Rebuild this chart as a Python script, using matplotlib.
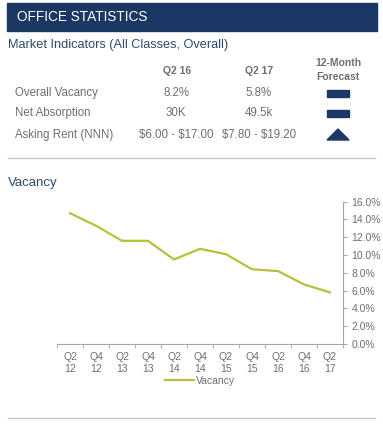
import matplotlib.pyplot as plt
from matplotlib.patches import Rectangle, Polygon

plt.rcParams['font.family'] = ['Liberation Sans', 'DejaVu Sans']

quarters = ['Q2\n12', 'Q4\n12', 'Q2\n13', 'Q4\n13', 'Q2\n14', 'Q4\n14',
            'Q2\n15', 'Q4\n15', 'Q2\n16', 'Q4\n16', 'Q2\n17']
vacancy = [14.7, 13.3, 11.6, 11.6, 9.5, 10.7, 10.1, 8.4, 8.2, 6.7, 5.8]

row_labels = ['Overall Vacancy', 'Net Absorption', 'Asking Rent (NNN)']
q2_16 = ['8.2%', '30K', r'\$6.00 - \$17.00']
q2_17 = ['5.8%', '49.5k', r'\$7.80 - \$19.20']
forecast = ['flat', 'flat', 'up']

W, H = 383, 428
navy = '#1B3763'
gray = '#6f6f6f'

fig = plt.figure(figsize=(W / 100, H / 100), dpi=100)


def fx(x):
    return x / W


def fy(y):
    return 1 - y / H


# header bar
fig.patches.append(Rectangle((fx(7), fy(31)), fx(370), 28 / H,
                             transform=fig.transFigure, color=navy))
fig.text(fx(17), fy(17), 'OFFICE STATISTICS', color='white', fontsize=9.8,
         va='center', ha='left')

fig.text(fx(8), fy(45), 'Market Indicators (All Classes, Overall)',
         color='#2E4A6E', fontsize=9.2, va='center')

hdr = dict(fontsize=7.5, fontweight='bold', color=gray, ha='center', va='center')
fig.text(fx(177), fy(71), 'Q2 16', **hdr)
fig.text(fx(259), fy(71), 'Q2 17', **hdr)
fig.text(fx(338), fy(63), '12-Month', **hdr)
fig.text(fx(338), fy(77), 'Forecast', **hdr)

row_y = [93, 113, 135]
for lab, a, b, f, y in zip(row_labels, q2_16, q2_17, forecast, row_y):
    fig.text(fx(15), fy(y), lab, fontsize=8.3, color=gray, va='center')
    fig.text(fx(176), fy(y), a, fontsize=8.3, color=gray, va='center', ha='center')
    fig.text(fx(259), fy(y), b, fontsize=8.3, color=gray, va='center', ha='center')
    if f == 'flat':
        fig.patches.append(Rectangle((fx(327), fy(y + 3.5)), fx(22), 7 / H,
                                     transform=fig.transFigure, color=navy))
    else:
        fig.patches.append(Polygon([(fx(327), fy(y + 5)), (fx(349), fy(y + 5)),
                                    (fx(338), fy(y - 6))],
                                   transform=fig.transFigure, color=navy))

# separators
for y in (158, 418):
    fig.add_artist(plt.Line2D([fx(8), fx(375)], [fy(y), fy(y)],
                              transform=fig.transFigure, color='#c8c8c8', lw=1))

fig.text(fx(8), fy(183), 'Vacancy', color='#2E4A6E', fontsize=9.5, va='center')

ax = fig.add_axes([fx(57), fy(344), 286 / W, 142.3 / H])
x = list(range(len(quarters)))
ax.plot(x, vacancy, color='#B8C03A', lw=1.6, label='Vacancy')
ax.set_xlim(-0.5, len(quarters) - 0.5)
ax.set_ylim(0, 16)
ax.set_yticks(range(0, 17, 2))
ax.set_yticklabels([f'{v:.1f}%' for v in range(0, 17, 2)])
ax.yaxis.tick_right()
ax.set_xticks(x)
ax.set_xticklabels(quarters)
ax.set_xticks([i - 0.5 for i in range(len(quarters) + 1)], minor=True)
ax.tick_params(axis='x', which='major', length=0, pad=6, labelsize=7.5,
               labelcolor=gray)
ax.tick_params(axis='x', which='minor', length=3, color='#a6a6a6', direction='out')
ax.tick_params(axis='y', length=3, color='#a6a6a6', labelsize=7.5,
               labelcolor=gray, pad=3)
for s in ('top', 'left'):
    ax.spines[s].set_visible(False)
for s in ('bottom', 'right'):
    ax.spines[s].set_color('#a6a6a6')
    ax.spines[s].set_linewidth(0.8)
ax.set_facecolor('none')
ax.legend(loc='upper center', bbox_to_anchor=(0.5, -0.16), frameon=False,
          fontsize=7.5, labelcolor=gray, handlelength=2.8, handletextpad=0.2)

fig.savefig('out.png', dpi=100)
